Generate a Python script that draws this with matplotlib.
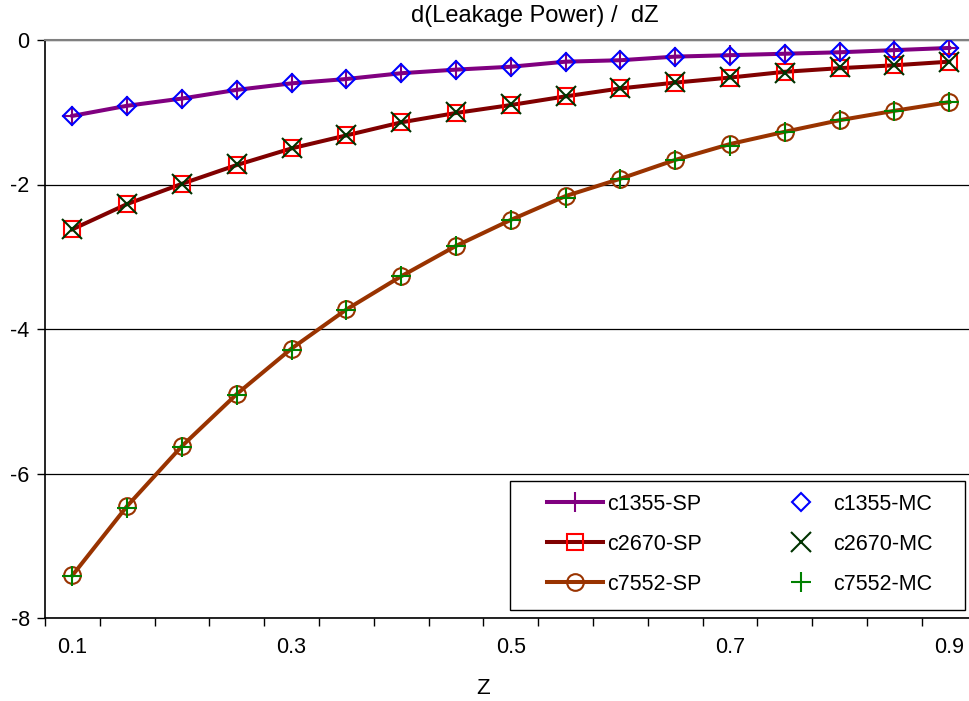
import numpy as np
import matplotlib
matplotlib.use('Agg')
import matplotlib.pyplot as plt
from matplotlib.patches import Rectangle

plt.rcParams['font.family'] = ['Liberation Sans', 'DejaVu Sans']

z = ['0.1', '0.15', '0.2', '0.25', '0.3', '0.35', '0.4', '0.45', '0.5',
     '0.55', '0.6', '0.65', '0.7', '0.75', '0.8', '0.85', '0.9']

c1355_sp = [-1.05, -0.91, -0.81, -0.69, -0.60, -0.54, -0.46, -0.41, -0.37,
            -0.30, -0.28, -0.23, -0.21, -0.19, -0.17, -0.14, -0.11]
c1355_mc = [-1.05, -0.91, -0.82, -0.69, -0.60, -0.54, -0.46, -0.42, -0.37,
            -0.31, -0.28, -0.23, -0.22, -0.20, -0.17, -0.15, -0.11]
c2670_sp = [-2.62, -2.27, -1.99, -1.73, -1.50, -1.32, -1.14, -1.01, -0.90,
            -0.78, -0.67, -0.59, -0.52, -0.44, -0.39, -0.35, -0.30]
c2670_mc = [-2.62, -2.27, -1.99, -1.72, -1.50, -1.31, -1.14, -1.00, -0.89,
            -0.78, -0.66, -0.58, -0.51, -0.45, -0.38, -0.34, -0.30]
c7552_sp = [-7.41, -6.45, -5.62, -4.90, -4.27, -3.73, -3.27, -2.85, -2.49,
            -2.16, -1.92, -1.66, -1.44, -1.27, -1.11, -0.98, -0.86]
c7552_mc = [-7.42, -6.48, -5.63, -4.91, -4.29, -3.74, -3.27, -2.85, -2.49,
            -2.19, -1.92, -1.66, -1.47, -1.27, -1.11, -0.98, -0.86]

x = np.arange(len(z))

fig = plt.figure(figsize=(9.69, 7.01), dpi=100)
ax = fig.add_axes([45/969, 83/701, 931.6/969, 578/701])

ax.plot(x, c1355_sp, color='#800080', lw=2.9, marker='+', ms=14, mew=1.5,
        label='c1355-SP', zorder=3)
ax.plot(x, c2670_sp, color='#800000', lw=2.9, marker='s', ms=12, mew=1.5,
        mfc='none', mec='#ff0000', label='c2670-SP', zorder=3)
ax.plot(x, c7552_sp, color='#993300', lw=2.9, marker='o', ms=12, mew=1.5,
        mfc='none', mec='#993300', label='c7552-SP', zorder=3)
ax.plot(x, c1355_mc, ls='none', marker='D', ms=9, mew=1.5, mfc='none',
        mec='#0000ff', label='c1355-MC', zorder=4)
ax.plot(x, c2670_mc, ls='none', marker='x', ms=14, mew=1.5,
        mec='#003300', label='c2670-MC', zorder=4)
ax.plot(x, c7552_mc, ls='none', marker='+', ms=14, mew=1.5,
        mec='#008000', label='c7552-MC', zorder=4)

ax.set_xlim(-0.5, len(z) - 0.5)
ax.set_ylim(-8, 0)

# category axis: tick marks between categories, labels every 4th category
ax.set_xticks(np.arange(-0.5, len(z), 1.0))
ax.set_xticklabels([])
ax.set_xticks(x[::4], minor=True)
ax.set_xticklabels(z[::4], minor=True)
ax.tick_params(axis='x', which='major', direction='out', length=6, width=1)
ax.tick_params(axis='x', which='minor', length=0, pad=14, labelsize=15.5)

ax.set_yticks([0, -2, -4, -6, -8])
ax.set_yticklabels(['0', '-2', '-4', '-6', '-8'])
ax.tick_params(axis='y', direction='out', length=6, width=1, pad=5, labelsize=15.5)

ax.yaxis.grid(True, color='black', lw=0.9)
ax.set_axisbelow(True)
ax.spines['right'].set_visible(False)
ax.spines['top'].set_color('#808080')
ax.spines['top'].set_linewidth(1.5)
ax.spines['left'].set_linewidth(1.2)
ax.spines['bottom'].set_linewidth(1.2)

# legend box drawn separately so the entries can sit inside it like Excel
ax.add_patch(Rectangle((0.4991, 0.0138), 0.4885, 0.2232, transform=ax.transAxes,
                       facecolor='white', edgecolor='black', lw=1.0, zorder=5))
leg = ax.legend(ncol=2, loc='upper left', bbox_to_anchor=(0.5389, 0.2145),
                fontsize=15.5, frameon=False, handlelength=2.6, handletextpad=0.2,
                labelspacing=0.88, borderpad=0, columnspacing=3.3,
                borderaxespad=0)
leg.set_zorder(6)

fig.text(535/969, 1 - 16/701, 'd(Leakage Power) /  dZ', ha='center', va='center',
         fontsize=17)
fig.text(483/969, 1 - 688/701, 'Z', ha='center', va='center', fontsize=16)

fig.savefig('out.png', dpi=100)
